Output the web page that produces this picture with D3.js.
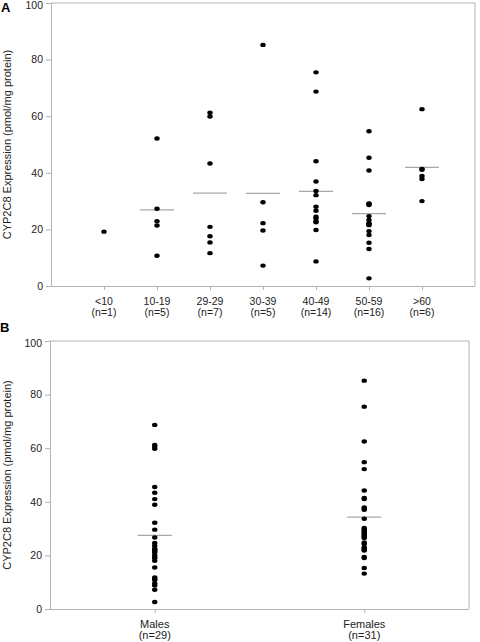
<!DOCTYPE html>
<html><head><meta charset="utf-8">
<script src="https://cdn.jsdelivr.net/npm/d3@7"></script>
<style>
body{margin:0;background:#fff}
svg{display:block}
text{font-family:Arial,"Liberation Sans",sans-serif}
</style>
</head><body>
<svg id="c" width="480" height="642"></svg>
<script>
// ---- Data ----
const ageGroups = ["<10", "10-19", "29-29", "30-39", "40-49", "50-59", ">60"];
const ageCounts = ["(n=1)", "(n=5)", "(n=7)", "(n=5)", "(n=14)", "(n=16)", "(n=6)"];
const ageLt10 = [19.2];
const age10to19 = [52.1, 27.3, 22.9, 21.4, 10.7];
const age20to29 = [61.2, 59.9, 43.3, 20.9, 17.6, 15.4, 11.6];
const age30to39 = [85.2, 29.6, 22.2, 19.6, 7.2];
const age40to49 = [75.5, 68.7, 44.1, 36.9, 33.6, 32.1, 28.0, 26.6, 24.5, 23.9, 22.9, 22.5, 19.8, 8.7];
const age50to59 = [54.7, 45.3, 40.8, 29.2, 29.0, 28.6, 24.7, 23.3, 22.1, 22.0, 21.5, 19.4, 18.0, 15.3, 13.1, 2.7];
const ageOver60 = [62.5, 41.4, 41.1, 38.9, 37.8, 30.0];

const sexGroups = ["Males", "Females"];
const sexCounts = ["(n=29)", "(n=31)"];
const males = [68.7, 61.2, 60.6, 59.8, 45.5, 43.4, 41.0, 38.9, 32.2, 29.6, 26.7, 24.6, 23.6, 22.5, 22.1, 21.7, 21.2, 20.2, 19.4, 19.0, 18.0, 15.5, 11.8, 11.2, 10.8, 9.5, 8.8, 7.2, 2.6];
const females = [85.2, 75.5, 62.5, 54.8, 52.2, 44.2, 41.4, 41.0, 37.9, 37.5, 37.0, 33.7, 30.2, 29.7, 29.2, 28.8, 28.3, 27.8, 27.3, 26.9, 26.5, 24.8, 24.3, 23.0, 22.6, 22.1, 21.8, 19.4, 19.0, 15.3, 13.2];

const yTicks = [0, 20, 40, 60, 80, 100];
const yTitle = "CYP2C8 Expression (pmol/mg protein)";

// ---- Drawing ----
const svg = d3.select("#c");
const axisColor = "#b3b3b3";
const meanColor = "#a8a8a8";

function panel(cfg) {
  const g = svg.append("g");
  const {x, y, groups, counts, series, labelSize, tickSize2} = cfg;
  const [x0, x1] = x.range();
  const [yb, yt] = y.range();

  // frame top / right
  g.append("path")
    .attr("d", `M${x0},${yt}H${x1}V${yb}`)
    .attr("fill", "none").attr("stroke", axisColor).attr("stroke-width", 1);

  // y axis
  const ya = g.append("g").attr("transform", `translate(${x0},0)`)
    .call(d3.axisLeft(y).tickValues(yTicks).tickSize(5).tickPadding(3));
  ya.select(".domain").attr("stroke", axisColor);
  ya.selectAll(".tick line").attr("stroke", axisColor);
  ya.selectAll(".tick text").attr("fill", "#222").style("font-size", tickSize2 + "px")
    .attr("dy", d => d === 100 ? "0.55em" : "0.32em");

  // x axis
  const xa = g.append("g").attr("transform", `translate(0,${yb})`)
    .call(d3.axisBottom(x).tickValues(groups.map((d, i) => cfg.pos(i))).tickSize(4).tickFormat(""));
  xa.select(".domain").attr("stroke", axisColor).attr("d", `M${x0},0.5H${x1}`);
  xa.selectAll(".tick line").attr("stroke", axisColor);

  // x labels
  groups.forEach((lab, i) => {
    const t = g.append("text").attr("x", x(cfg.pos(i))).attr("text-anchor", "middle")
      .attr("fill", "#222").style("font-size", labelSize + "px");
    t.append("tspan").attr("x", x(cfg.pos(i))).attr("y", yb + cfg.lab1).text(lab);
    t.append("tspan").attr("x", x(cfg.pos(i))).attr("y", yb + cfg.lab2).text(counts[i]);
  });

  // mean lines
  series.forEach((vals, i) => {
    if (vals.length < 2) return;
    const m = d3.mean(vals);
    g.append("line")
      .attr("x1", x(cfg.pos(i)) - 17).attr("x2", x(cfg.pos(i)) + 17)
      .attr("y1", y(m)).attr("y2", y(m))
      .attr("stroke", meanColor).attr("stroke-width", 1.2);
  });

  // points
  series.forEach((vals, i) => {
    g.selectAll(null).data(vals).enter().append("ellipse")
      .attr("cx", x(cfg.pos(i))).attr("cy", d => y(d))
      .attr("rx", 2.7).attr("ry", 2.2).attr("fill", "#000");
  });

  // y title
  g.append("text")
    .attr("transform", `translate(${cfg.titleX},${(yb + yt) / 2}) rotate(-90)`)
    .attr("text-anchor", "middle").attr("dominant-baseline", "central")
    .attr("fill", "#222").style("font-size", cfg.titleSize + "px")
    .text(yTitle);

  // panel letter
  g.append("text").attr("x", cfg.letterX).attr("y", cfg.letterY)
    .style("font-size", "13px").style("font-weight", "bold").attr("fill", "#000")
    .text(cfg.letter);
}

panel({
  x: d3.scaleLinear([0, 8], [51, 475]),
  y: d3.scaleLinear([0, 100], [286, 3]),
  pos: i => i + 1,
  groups: ageGroups, counts: ageCounts,
  series: [ageLt10, age10to19, age20to29, age30to39, age40to49, age50to59, ageOver60],
  labelSize: 10.5, tickSize2: 10.5,
  lab1: 19, lab2: 30,
  titleX: 7, titleSize: 11,
  letter: "A", letterX: 1, letterY: 12
});

panel({
  x: d3.scaleLinear([0, 4], [50, 469]),
  y: d3.scaleLinear([0, 100], [609, 341]),
  pos: i => 1 + 2 * i,
  groups: sexGroups, counts: sexCounts,
  series: [males, females],
  labelSize: 11, tickSize2: 10.5,
  lab1: 18.5, lab2: 30,
  titleX: 7, titleSize: 11,
  letter: "B", letterX: 0, letterY: 332
});
</script>
</body></html>
